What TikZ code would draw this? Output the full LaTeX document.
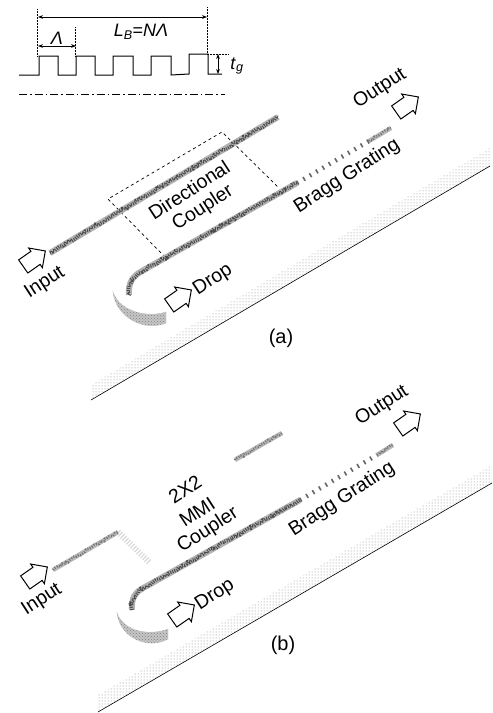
\documentclass[tikz,border=0pt]{standalone}
\usepackage{fontspec}
\setmainfont{Liberation Sans}
\usepackage{amsmath}
\usetikzlibrary{shapes.arrows, arrows.meta, patterns, decorations.pathmorphing}

\begin{document}
\begin{tikzpicture}[x=1pt, y=-1pt,
            rough/.style    ={decorate, decoration={random steps, segment length=2pt, amplitude=1.2pt}},
            guide/.style    ={line width=6pt, gray!60,
                              postaction={draw=black!70, line width=3.4pt, dash pattern=on 1pt off 1.2pt, rough}},
            paleguide/.style={line width=4.5pt, gray!55,
                              postaction={draw=black!55, line width=2.4pt, dash pattern=on 1pt off 1.5pt, rough}},
            fadeguide/.style={line width=6pt, gray!30, dash pattern=on 1.2pt off 1.6pt},
            teeth/.style    ={line width=4.5pt, black!60, dash pattern=on 1.6pt off 5.8pt},
            crescent/.style ={fill=gray!45, draw=gray!45, line width=0.4pt,
                              postaction={pattern=crosshatch dots, pattern color=black!50}},
            stipple/.style  ={pattern=dots, pattern color=gray},
            substrate/.style={line width=0.6pt},
            blockarrow/.style={single arrow, draw, line width=1pt, fill=white, minimum height=27pt,
                              inner xsep=0pt, inner ysep=7.5pt, single arrow head extend=4pt,
                              single arrow tip angle=90, rotate=35},
            tilted/.style   ={font=\fontsize{19.5}{19.5}\selectfont, inner sep=0pt, rotate=33},
            plain/.style    ={font=\fontsize{18}{18}\selectfont, inner sep=0pt},
            caption/.style  ={font=\fontsize{20}{20}\selectfont, inner sep=0pt},
            dim/.style      ={{Stealth[length=5pt]}-{Stealth[length=5pt]}, line width=0.8pt},
            guideline/.style={densely dotted, line width=0.5pt}
        ]
            \useasboundingbox (0,0) rectangle (493,713);

            % grating profile
            \coordinate (pstart) at (19,75);
            \coordinate (pend)   at (222,74);
            \draw[line width=1pt] (pstart) -- (39,75) -- (39,56) -- (58,56) -- (58,75) -- (76,75) -- (76,56)
                -- (95,56) -- (95,75) -- (113,75) -- (113,56) -- (133,56) -- (133,75) -- (151,75) -- (151,56)
                -- (171,56) -- (171,75) -- (189,74) -- (189,54) -- (208,54) -- (208,74) -- (pend);
            \coordinate (lbl) at (38,17);
            \coordinate (lbr) at (207,17);
            \coordinate (perl) at (38,46);
            \coordinate (perr) at (76,46);
            \coordinate (tgt) at (218,54);
            \coordinate (tgb) at (218,74);
            \draw[guideline] (37,9) -- (37,56);
            \draw[guideline] (207,7) -- (207,54);
            \draw[guideline] (75,27) -- (75,56);
            \draw[guideline] (208,54) -- (228,54);
            \draw[dim] (lbl) -- (lbr);
            \draw[dim] (perl) -- (perr);
            \draw[dim] (tgt) -- (tgb);
            \node[plain] (period) at (57,38) {\textit{Λ}};
            \node[plain] (length) at (141,32) {\textit{L}\textsubscript{\textit{B}}=\textit{NΛ}};
            \node[plain] (depth)  at (237,66) {\textit{t}\textsubscript{\textit{g}}};
            \draw[line width=0.7pt, dash pattern=on 8pt off 3pt on 1.5pt off 3pt] (19,94) -- (225,94);

            % (a) directional coupler
            \path[stipple] (91,385) -- (490,148) -- (490,166) -- (91,400) -- cycle;
            \draw[substrate] (91,400) -- (490,166);
            \draw[dashed, line width=0.7pt] (165,257) -- (108,199) -- (222,132) -- (278,187);
            \draw[guide] (50,253) -- (278,117);
            \draw[guide] (129,295) .. controls (128,282) and (133,276) .. (142,271) -- (297,183);
            \draw[teeth] (297,183) -- (369,141);
            \draw[paleguide] (369,141) -- (391,128);
            \path[crescent] (113,292) .. controls (116,318) and (145,332) .. (166,323)
                -- (166,312) .. controls (148,318) and (120,312) .. cycle;

            \node[blockarrow] (ina)  at (31,261)  {};
            \node[blockarrow] (dra)  at (177,300) {};
            \node[blockarrow] (outa) at (404,107) {};
            \node[tilted] (inputa)  at (45,283)  {Input};
            \node[tilted] (dropa)   at (213,280) {Drop};
            \node[tilted] (dirc)    at (189,190) {Directional};
            \node[tilted] (coupa)   at (203,208) {Coupler};
            \node[tilted] (bragga)  at (347,176) {Bragg Grating};
            \node[tilted] (outputa) at (380,89)  {Output};
            \node[caption] (capa)   at (281,338) {(a)};

            % (b) MMI coupler
            \path[stipple] (98,695) -- (492,465) -- (492,483) -- (98,712) -- cycle;
            \draw[substrate] (98,712) -- (492,483);
            \draw[fadeguide] (118,532) -- (150,563);
            \draw[paleguide] (53,570) -- (118,532);
            \draw[paleguide] (235,460) -- (282,433);
            \draw[guide] (132,610) .. controls (131,598) and (135,592) .. (145,587) -- (300,500);
            \draw[teeth] (300,500) -- (377,455);
            \draw[paleguide] (377,455) -- (393,445);
            \path[crescent] (117,613) .. controls (120,638) and (148,650) .. (168,639)
                -- (168,629) .. controls (150,636) and (124,632) .. cycle;

            \node[blockarrow] (inb)  at (33,577)  {};
            \node[blockarrow] (drb)  at (180,615) {};
            \node[blockarrow] (outb) at (406,424) {};
            \node[tilted] (inputb)  at (42,600)  {Input};
            \node[tilted] (dropb)   at (215,595) {Drop};
            \node[tilted] (twox)    at (185,489) {2X2};
            \node[tilted] (mmi)     at (197,512) {MMI};
            \node[tilted] (coupb)   at (208,530) {Coupler};
            \node[tilted] (braggb)  at (342,499) {Bragg Grating};
            \node[tilted] (outputb) at (382,406) {Output};
            \node[caption] (capb)   at (283,645) {(b)};
        \end{tikzpicture}
\end{document}
